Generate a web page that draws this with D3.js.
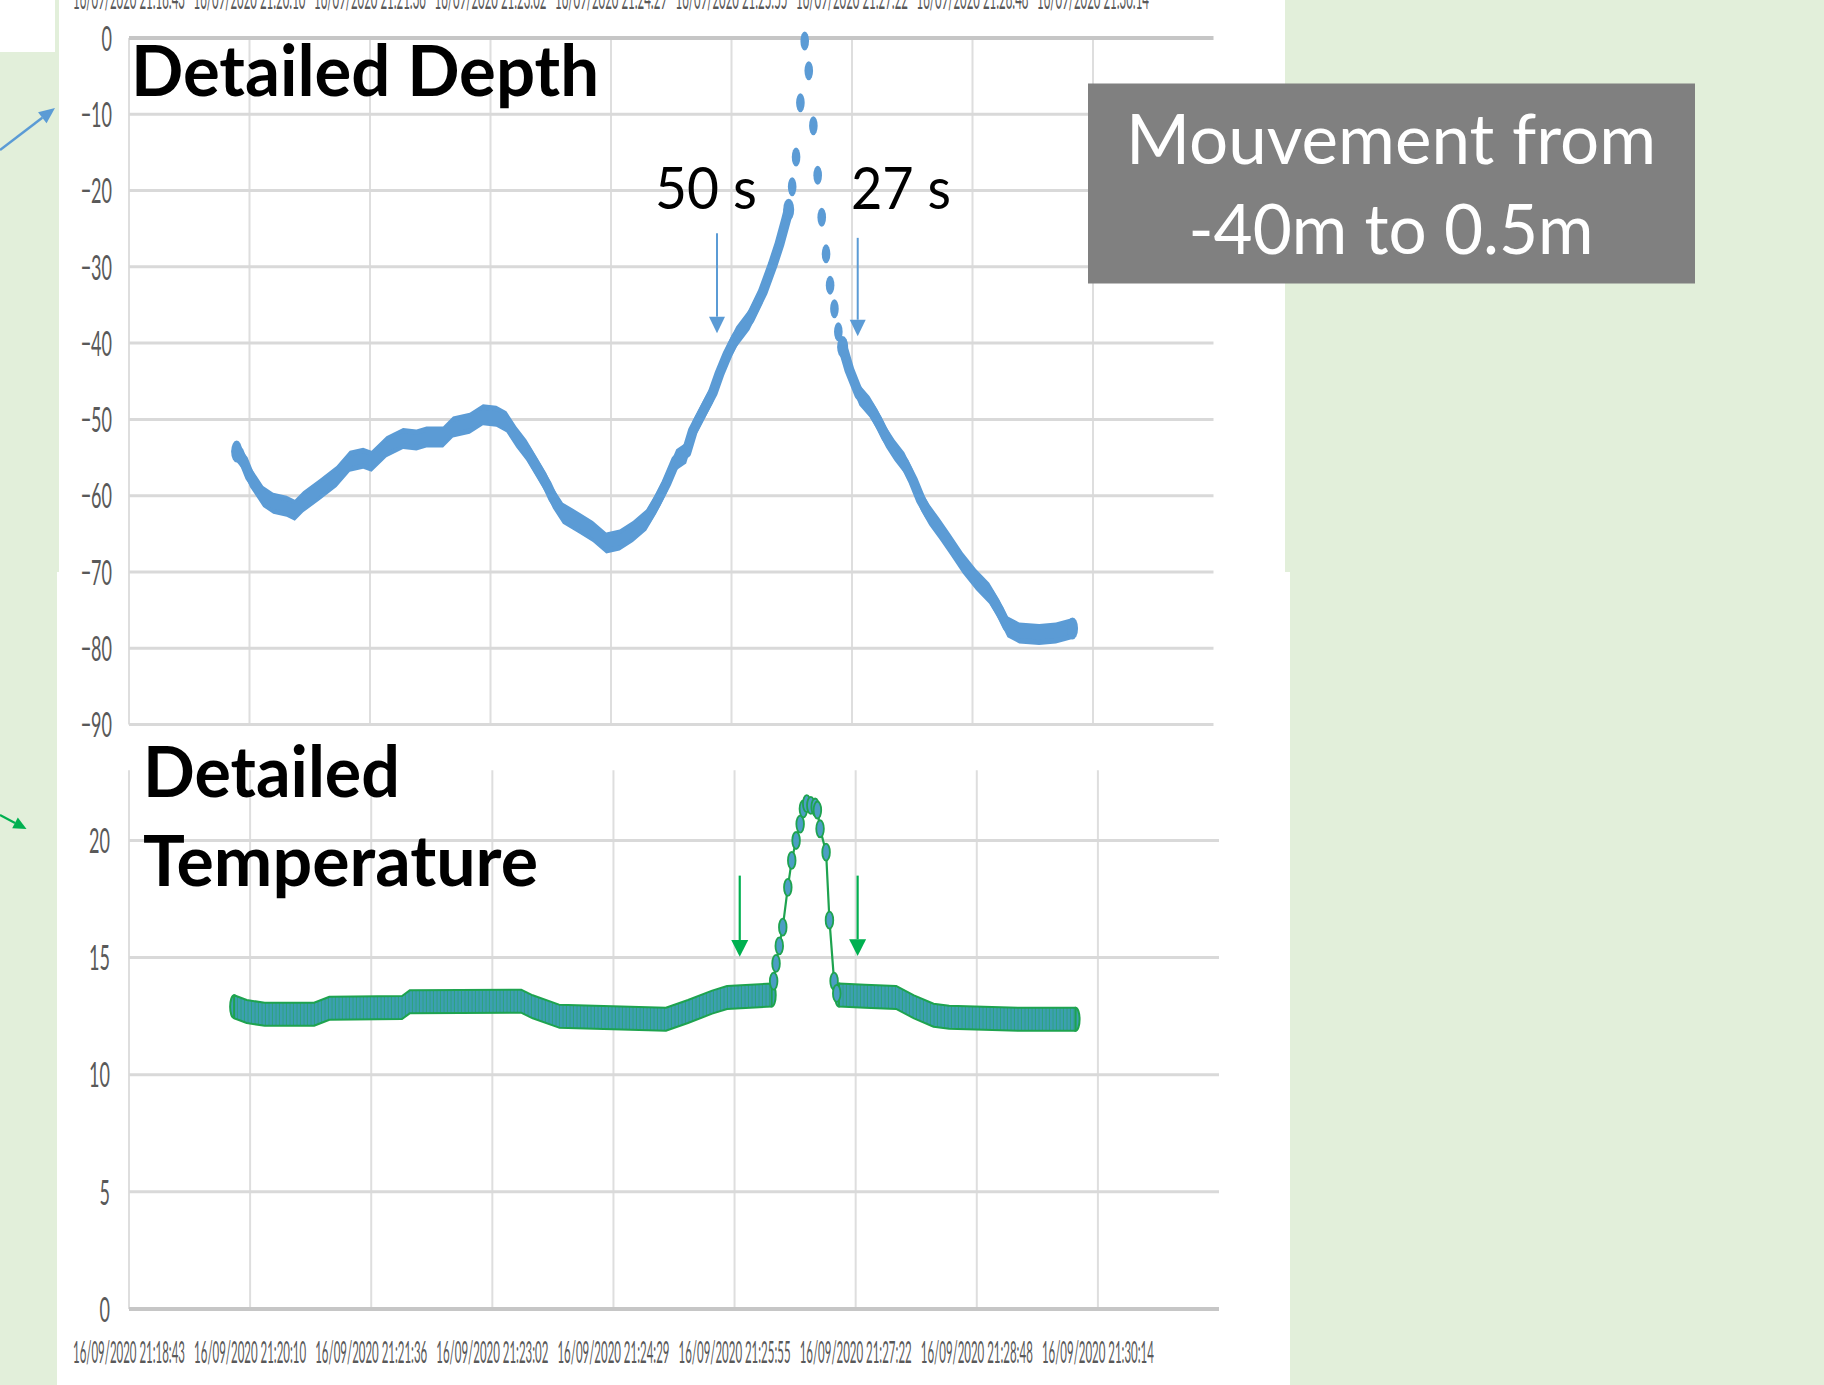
<!DOCTYPE html>
<html><head><meta charset="utf-8">
<script src="https://cdn.jsdelivr.net/npm/d3@7"></script>
<style>body{margin:0;background:#e2efda;overflow:hidden} svg{display:block}</style>
</head><body><svg id="c" width="1824" height="1385"></svg>
<script>
// ---------- data ----------
const timeLabels = ["16/09/2020 21:18:43","16/09/2020 21:20:10","16/09/2020 21:21:36","16/09/2020 21:23:02","16/09/2020 21:24:29","16/09/2020 21:25:55","16/09/2020 21:27:22","16/09/2020 21:28:48","16/09/2020 21:30:14"];
const tickStep = 86.4;           // seconds between time labels
const axisIntervals = 9;         // time axis spans 9 label steps
const depthTicks = [0,-10,-20,-30,-40,-50,-60,-70,-80,-90];
const tempTicks = [0,5,10,15,20];
// [seconds after 21:18:43, depth m]
const depthAscent = [[77.2,-54.2],[81.9,-55.3],[86.7,-57.5],[91.5,-58.8],[96.2,-60.1],[103.4,-61.0],[113.0,-61.4],[118.9,-61.9],[124.9,-60.8],[136.8,-59.2],[148.8,-57.5],[158.3,-55.5],[167.9,-55.1],[173.9,-55.5],[184.6,-53.6],[196.5,-52.5],[206.1,-52.7],[213.3,-52.3],[225.2,-52.3],[232.3,-51.0],[244.3,-50.5],[253.8,-49.4],[263.4,-49.6],[270.6,-50.3],[277.7,-52.3],[284.9,-54.0],[292.1,-56.2],[299.2,-58.4],[304.0,-60.3],[311.1,-62.3],[323.1,-63.6],[332.6,-64.7],[342.2,-66.2],[351.8,-65.8],[361.3,-64.7],[370.9,-63.2],[378.0,-61.0],[385.2,-58.4],[392.4,-55.3],[399.5,-54.4],[404.3,-51.5],[411.4,-49.0],[418.6,-46.5],[423.4,-44.0],[429.3,-41.4],[435.4,-39.2],[444.9,-36.9],[454.4,-33.3],[461.6,-29.7],[466.4,-27.0],[471.2,-23.8],[473.0,-22.5]];
const depthPeak = [[475.5,-19.5],[478.3,-15.6],[481.4,-8.5],[484.5,-0.4],[487.4,-4.3],[490.7,-11.5],[493.8,-18.0],[496.7,-23.5],[499.8,-28.3],[502.7,-32.4],[505.8,-35.5],[508.6,-38.5]];
const depthDescent = [[511.7,-40.5],[516.5,-43.5],[523.7,-46.8],[530.9,-48.3],[536.8,-50.1],[542.8,-52.3],[548.8,-54.0],[555.9,-55.7],[561.9,-57.9],[567.9,-60.6],[573.8,-62.5],[581.0,-64.3],[588.2,-66.2],[597.7,-68.8],[607.3,-71.0],[616.8,-72.8],[624.0,-75.0],[629.9,-77.2],[638.3,-78.0],[652.6,-78.2],[664.6,-78.0],[676.5,-77.4]];
// [seconds after 21:18:43, temperature °C]
const tempBefore = [[75.0,12.9],[84.0,12.7],[96.8,12.58],[132.0,12.58],[143.0,12.84],[194.8,12.87],[200.5,13.12],[279.7,13.14],[288.0,12.9],[306.8,12.5],[383.0,12.37],[398.8,12.7],[416.0,13.1],[426.7,13.3],[458.5,13.4]];
const tempPeak = [[459.9,14.0],[461.6,14.75],[463.9,15.5],[466.4,16.3],[470.0,18.0],[472.8,19.15],[475.9,20.0],[478.8,20.7],[481.1,21.35],[483.5,21.57],[486.4,21.5],[489.5,21.43],[491.1,21.3],[493.0,20.5],[497.3,19.5],[499.7,16.6],[503.0,14.0],[504.9,13.47]];
const tempAfter = [[506.5,13.4],[525.1,13.35],[547.2,13.3],[560.0,12.9],[574.0,12.54],[585.1,12.45],[634.3,12.37],[675.3,12.37]];
// annotations: [time, fromValue, toValue]
const depthArrows = [[421.6,-25.6,-38.7],[522.5,-26.2,-39.1]];
const tempArrows = [[435.7,18.5,15.04],[519.8,18.5,15.07]];

// ---------- setup ----------
const svg = d3.select("#c");
const W = 1824, H = 1385;
const GREEN_BG = "#e2efda", BLUE = "#5b9bd5", GREEN = "#00b050";
const defs = svg.append("defs");
const pat = defs.append("pattern").attr("id","stripe").attr("patternUnits","userSpaceOnUse").attr("width",3.5).attr("height",40);
pat.append("rect").attr("width",3.5).attr("height",40).attr("fill","#3c9fb2");
pat.append("rect").attr("x",2.5).attr("width",1).attr("height",40).attr("fill","#22a35a").attr("opacity",0.6);

svg.append("rect").attr("width",W).attr("height",H).attr("fill",GREEN_BG);
svg.append("rect").attr("x",0).attr("y",0).attr("width",55).attr("height",52).attr("fill","#fff");
svg.append("rect").attr("x",59).attr("y",0).attr("width",1226).attr("height",572).attr("fill","#fff");
svg.append("rect").attr("x",57).attr("y",572).attr("width",1233).attr("height",813).attr("fill","#fff");

const tMax = axisIntervals*tickStep;
const xD = d3.scaleLinear().domain([0,tMax]).range([129,1213.5]);
const yD = d3.scaleLinear().domain([-90,0]).range([724.5,38]);
const xT = d3.scaleLinear().domain([0,tMax]).range([129,1219]);
const yT = d3.scaleLinear().domain([0,23]).range([1309,770.2]);
const tickTimes = timeLabels.map((_,i)=>i*tickStep);

function condense(sel, factor){
  sel.each(function(){
    const w = this.getComputedTextLength();
    d3.select(this).attr("textLength", w*factor).attr("lengthAdjust","spacingAndGlyphs");
  });
}

// ---------- grids ----------
function grid(g, x, y, ticks, axisVal, yTop, yBot){
  g.selectAll(".vg").data(tickTimes).join("line")
    .attr("x1",d=>x(d)).attr("x2",d=>x(d)).attr("y1",yTop).attr("y2",yBot)
    .attr("stroke","#dedede").attr("stroke-width",2);
  g.selectAll(".hg").data(ticks).join("line")
    .attr("x1",x(0)).attr("x2",x(tMax)).attr("y1",d=>y(d)).attr("y2",d=>y(d))
    .attr("stroke",d=>d===axisVal?"#c6c6c6":"#d9d9d9").attr("stroke-width",d=>d===axisVal?4:3);
}
const gD = svg.append("g");
grid(gD, xD, yD, depthTicks, 0, yD(0), yD(-90));
const gT = svg.append("g");
grid(gT, xT, yT, tempTicks, 0, yT(23), yT(0));

// y axes (labels only)
const axD = svg.append("g").attr("transform",`translate(${xD(0)},0)`)
  .call(d3.axisLeft(yD).tickValues(depthTicks).tickSize(0).tickPadding(17).tickFormat(d3.format("d")));
const axT = svg.append("g").attr("transform",`translate(${xT(0)},0)`)
  .call(d3.axisLeft(yT).tickValues(tempTicks).tickSize(0).tickPadding(19).tickFormat(d3.format("d")));
[axD,axT].forEach(a=>{
  a.select(".domain").remove();
  a.selectAll("text").attr("font-family","Lato").attr("font-size",34).attr("fill","#595959").attr("dy","0.36em");
  condense(a.selectAll("text"),0.53);
});

// time labels (top, partly cut off, and bottom)
function timeText(y, x){
  svg.append("g").selectAll("text").data(timeLabels).join("text")
    .attr("x",(d,i)=>x(tickTimes[i])).attr("y",y)
    .attr("text-anchor","middle").attr("font-family","Lato").attr("font-size",30).attr("fill","#595959")
    .attr("textLength",112).attr("lengthAdjust","spacingAndGlyphs").text(d=>d);
}
timeText(9, xD);
timeText(1363, xT);

// ---------- depth series ----------
const ryD = 10.5, rxD = 5;
const bandD = d3.area().x(d=>xD(d[0])).y0(d=>yD(d[1])+ryD).y1(d=>yD(d[1])-ryD);
const lineD = d3.line().x(d=>xD(d[0])).y(d=>yD(d[1]));
[depthAscent, depthDescent].forEach(arr=>{
  svg.append("path").attr("d",bandD(arr)).attr("fill",BLUE);
  svg.append("path").attr("d",lineD(arr)).attr("fill","none").attr("stroke",BLUE)
    .attr("stroke-width",rxD*2).attr("stroke-linejoin","round").attr("stroke-linecap","round");
  svg.append("g").selectAll("ellipse").data([arr[0],arr[arr.length-1]]).join("ellipse")
    .attr("cx",d=>xD(d[0])).attr("cy",d=>yD(d[1])).attr("rx",rxD+0.5).attr("ry",ryD+0.5).attr("fill",BLUE);
});
svg.append("g").selectAll("ellipse").data(depthPeak).join("ellipse")
  .attr("cx",d=>xD(d[0])).attr("cy",d=>yD(d[1])).attr("rx",4.3).attr("ry",9.5).attr("fill",BLUE);

// ---------- temperature series ----------
const ryT = 11.5;
const bandT = d3.area().x(d=>xT(d[0])).y0(d=>yT(d[1])+ryT).y1(d=>yT(d[1])-ryT);
const lineT = d3.line().x(d=>xT(d[0])).y(d=>yT(d[1]));
const allT = [...tempBefore,...tempPeak,...tempAfter];
svg.append("path").attr("d",lineT(allT)).attr("fill","none").attr("stroke","#1ea34f").attr("stroke-width",2.2);
[tempBefore, tempAfter].forEach(arr=>{
  svg.append("g").selectAll("ellipse").data([arr[0],arr[arr.length-1]]).join("ellipse")
    .attr("cx",d=>xT(d[0])).attr("cy",d=>yT(d[1])).attr("rx",4).attr("ry",ryT)
    .attr("fill","#3c9fb2").attr("stroke","#1ea34f").attr("stroke-width",2);
  svg.append("path").attr("d",bandT(arr)).attr("fill","url(#stripe)").attr("stroke","#1ea34f").attr("stroke-width",2).attr("stroke-linejoin","round");
});
svg.append("g").selectAll("ellipse").data(tempPeak).join("ellipse")
  .attr("cx",d=>xT(d[0])).attr("cy",d=>yT(d[1])).attr("rx",3.8).attr("ry",8.5)
  .attr("fill","#4b9ec4").attr("stroke","#1ea34f").attr("stroke-width",1.8);

// ---------- annotations ----------
function arrow(x1,y1,x2,y2,color,w,hl,hw){
  const a = Math.atan2(y2-y1,x2-x1), c=Math.cos(a), s=Math.sin(a);
  const bx = x2-hl*c, by = y2-hl*s;
  svg.append("line").attr("x1",x1).attr("y1",y1).attr("x2",bx).attr("y2",by).attr("stroke",color).attr("stroke-width",w);
  svg.append("path").attr("d",`M${x2},${y2}L${bx-hw/2*s},${by+hw/2*c}L${bx+hw/2*s},${by-hw/2*c}Z`).attr("fill",color);
}
depthArrows.forEach(d=>arrow(xD(d[0]),yD(d[1]),xD(d[0]),yD(d[2]),BLUE,2,16.5,16));
tempArrows.forEach(d=>arrow(xT(d[0]),yT(d[1]),xT(d[0]),yT(d[2]),GREEN,2.2,16.7,17));
arrow(0,150,55,108,BLUE,2.5,16,14);
arrow(0,815,26.5,829,GREEN,2.2,13,12);

function txt(x,y,t,size,weight,fill,len,anchor){
  return svg.append("text").attr("x",x).attr("y",y).attr("font-family","Lato").attr("font-size",size)
    .attr("font-weight",weight).attr("fill",fill).attr("text-anchor",anchor||"start")
    .attr("textLength",len).attr("lengthAdjust","spacingAndGlyphs").text(t);
}
txt(131,96,"Detailed Depth",70,700,"#000",468);
txt(143,797,"Detailed",70,700,"#000",257);
txt(143,886,"Temperature",70,700,"#000",395);
txt(655,208.7,"50 s",58,400,"#000",102);
txt(851,208.7,"27 s",58,400,"#000",100);

svg.append("rect").attr("x",1088).attr("y",83.5).attr("width",607).attr("height",200).attr("fill","#808080");
txt(1391,164,"Mouvement from",70,400,"#fff",530,"middle");
txt(1391,253.5,"-40m to 0.5m",70,400,"#fff",405,"middle");
</script></body></html>
